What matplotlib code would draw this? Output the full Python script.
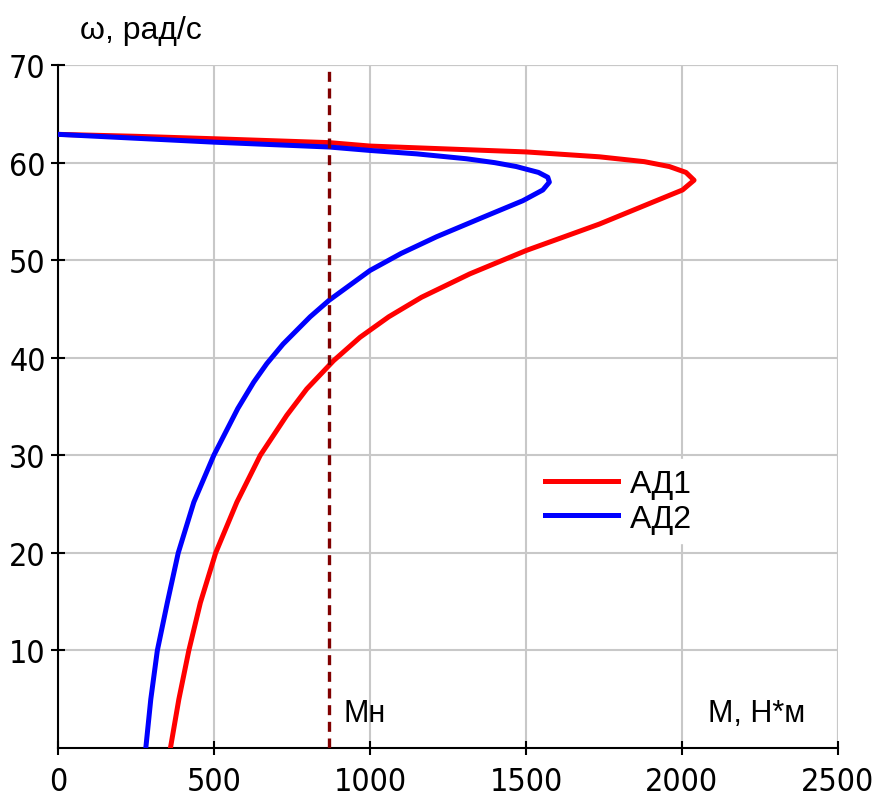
import matplotlib.pyplot as plt
from matplotlib import font_manager

# Moment vs angular speed curves for two motors
red_M = [0, 250, 500, 870, 1000, 1250, 1500, 1735, 1880, 1960, 2013, 2039, 2002, 1895,
         1735, 1501, 1320, 1165, 1060, 968, 883, 797, 733, 648, 573, 505, 456, 419, 387, 360]
red_w = [62.9, 62.7, 62.45, 62.05, 61.7, 61.4, 61.1, 60.6, 60.1, 59.6, 59.0, 58.2, 57.2, 55.8,
         53.7, 51.0, 48.6, 46.2, 44.2, 42.1, 39.7, 36.8, 34.1, 30, 25.2, 20, 14.9, 10, 5, 0]

blue_M = [0, 250, 500, 870, 1000, 1150, 1309, 1400, 1469, 1540, 1570, 1575, 1554, 1490, 1362,
          1213, 1100, 1000, 869, 808, 721, 669, 627, 576, 499, 435, 385, 350, 318, 297, 281]
blue_w = [62.9, 62.5, 62.1, 61.6, 61.25, 60.9, 60.4, 60.0, 59.6, 59.0, 58.5, 58.0, 57.2, 56.1, 54.4,
          52.4, 50.7, 48.95, 45.9, 44.2, 41.4, 39.4, 37.5, 34.8, 30, 25.2, 20, 14.9, 10, 5, 0]

M_nom = 870
x_ticks = [0, 500, 1000, 1500, 2000, 2500]
y_ticks = [10, 20, 30, 40, 50, 60, 70]

# narrow font for numbers if one is available
fonts = font_manager.fontManager.ttflist
if any(f.name == 'Liberation Sans Narrow' for f in fonts):
    num_font, num_stretch, num_size = 'Liberation Sans Narrow', 'normal', 25
elif any(f.name == 'DejaVu Sans' and f.stretch == 'condensed' for f in fonts):
    num_font, num_stretch, num_size = 'DejaVu Sans', 'condensed', 23
else:
    num_font, num_stretch, num_size = 'Liberation Sans', 'normal', 21
text_font = ['Liberation Sans', 'DejaVu Sans']

fig = plt.figure(figsize=(8.88, 8.03), dpi=100)
ax = fig.add_axes([0.0655, 0.0672, 0.878, 0.8505])

ax.plot(red_M, red_w, color='#ff0000', lw=3.6, label='АД1', zorder=3,
        solid_joinstyle='round')
ax.plot(blue_M, blue_w, color='#0000ff', lw=3.6, label='АД2', zorder=3,
        solid_joinstyle='round')
ax.axvline(M_nom, color='#800000', lw=2.4, ls=(0, (3, 2)), zorder=4)

ax.set_xlim(0, 2500)
ax.set_ylim(0, 70)
ax.set_xticks(x_ticks)
ax.set_yticks(y_ticks)
ax.grid(True, color='#c8c8c8', lw=1.5)
ax.set_axisbelow(True)

for side in ['top', 'right']:
    ax.spines[side].set_visible(False)
for side in ['left', 'bottom']:
    ax.spines[side].set_linewidth(1.5)

ax.tick_params(direction='inout', length=10, width=1.5, labelsize=num_size)
ax.tick_params(axis='x', pad=8)
ax.tick_params(axis='y', pad=4)
for lab in ax.get_xticklabels() + ax.get_yticklabels():
    lab.set_family(num_font)
    lab.set_stretch(num_stretch)

# gridlines at the upper limits
ax.axvline(2500, color='#c8c8c8', lw=1.5, zorder=0)
ax.axhline(70, color='#c8c8c8', lw=1.5, zorder=0)

ax.text(0.028, 1.03, 'ω, рад/с', transform=ax.transAxes, fontsize=23,
        family=text_font, ha='left', va='bottom')
ax.text(M_nom + 45, 3.6, 'Mн', fontsize=22, family=text_font, ha='left', va='center')
ax.text(2240, 3.6, 'M, Н*м', fontsize=22, family=text_font, ha='center', va='center')

leg = ax.legend(loc='upper left', bbox_to_anchor=(0.612, 0.423), frameon=True,
                prop={'family': text_font, 'size': 23}, handlelength=2.3,
                handletextpad=0.35, labelspacing=0.15, borderpad=0.3,
                borderaxespad=0)
leg.get_frame().set_edgecolor('white')
leg.get_frame().set_facecolor('white')
leg.get_frame().set_alpha(1)

fig.savefig('out.png', dpi=100)
